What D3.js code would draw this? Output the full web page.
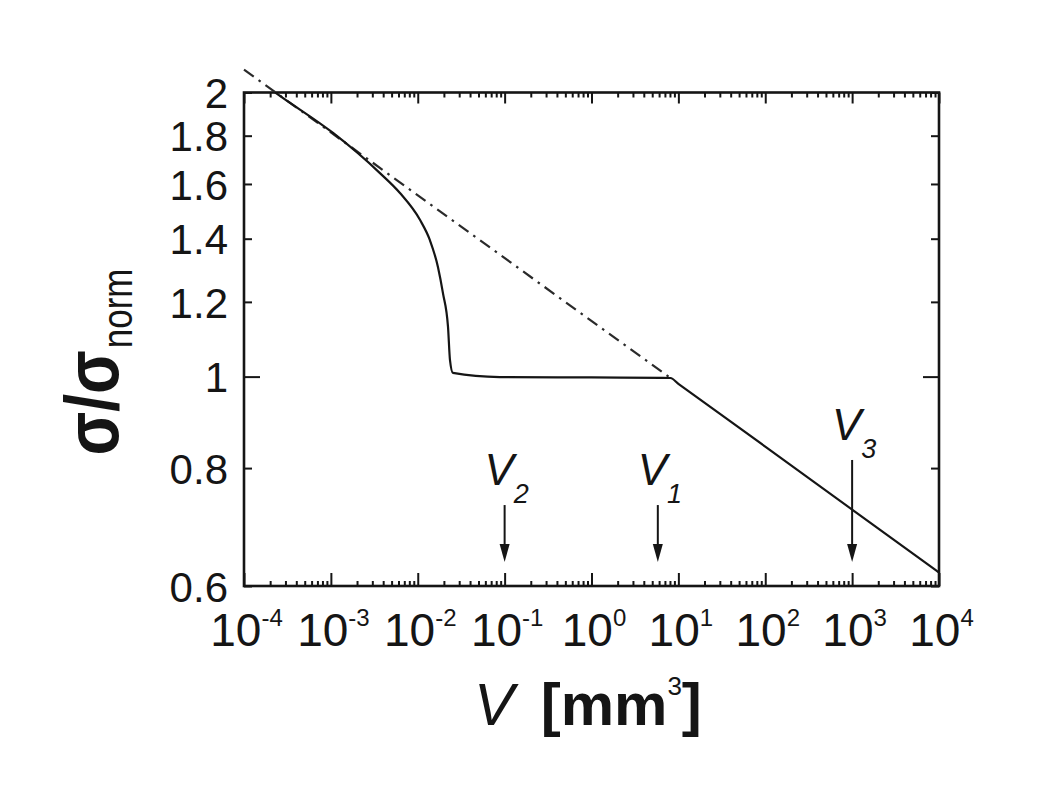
<!DOCTYPE html>
<html><head><meta charset="utf-8">
<script src="https://cdn.jsdelivr.net/npm/d3@7"></script>
<style>body{margin:0;background:#fff} svg{display:block}</style>
</head><body>
<svg id="c" width="1038" height="800"></svg>
<script>
// ---- data ----
const xTickValues = [1e-4, 1e-3, 1e-2, 1e-1, 1, 1e1, 1e2, 1e3, 1e4];
const xTickExponents = ["-4", "-3", "-2", "-1", "0", "1", "2", "3", "4"];
const yTickValues = [0.6, 0.8, 1, 1.2, 1.4, 1.6, 1.8, 2];
const yTickLabels = ["0.6", "0.8", "1", "1.2", "1.4", "1.6", "1.8", "2"];
// solid curve (V in mm^3, sigma/sigma_norm)
const curveV = [1e-4, 2.82e-4, 1.06e-3, 3.67e-3, 6.24e-3, 0.0106, 0.0138, 0.0171, 0.0195, 0.0223, 0.0235, 0.0254, 0.088, 1.0, 6.5, 8.1, 10, 100, 1000, 1e4];
const curveSigma = [2.11, 1.973, 1.812, 1.643, 1.565, 1.466, 1.395, 1.306, 1.226, 1.129, 1.041, 1.009, 0.999, 0.998, 0.997, 0.9966, 0.9827, 0.843, 0.723, 0.620];
// dash-dot reference power law
const refV = [1e-4, 7.7];
const refSigma = [2.115, 1.0];
// marker arrows
const markerNames = ["2", "1", "3"];
const markerV = [0.1, 5.8, 1000];
const markerTop = [0.731, 0.731, 0.816];
const markerTip = [0.636, 0.636, 0.636];

// ---- layout ----
const L = 244, R = 939, T = 92.5, B = 586;
const FONT = "'Liberation Sans', Arial, Helvetica, sans-serif";
const ink = "#151515";

const svg = d3.select("#c");
const x = d3.scaleLog().domain([1e-4, 1e4]).range([L, R]);
const y = d3.scaleLog().domain([0.6, 2]).range([B, T]);

svg.append("defs").append("clipPath").attr("id", "plotclip")
  .append("rect").attr("x", L).attr("y", T).attr("width", R - L).attr("height", B - T);

// minor tick positions
const minorX = [];
for (let k = -4; k < 4; k++) for (let m = 2; m <= 9; m++) minorX.push(m * Math.pow(10, k));

function styleAxis(g) {
  g.select(".domain").remove();
  g.selectAll(".tick line").attr("stroke", ink).attr("stroke-width", 2);
}

// bottom minor / major
svg.append("g").attr("transform", `translate(0,${B})`)
  .call(d3.axisBottom(x).tickValues(minorX).tickSize(-5).tickFormat(""))
  .call(styleAxis);
const xb = svg.append("g").attr("transform", `translate(0,${B})`)
  .call(d3.axisBottom(x).tickValues(xTickValues).tickSize(-13).tickFormat(() => ""))
  .call(styleAxis);
xb.selectAll(".tick text").each(function(d, i) {
  const t = d3.select(this);
  const e = xTickExponents[i];
  t.attr("y", 60).attr("dy", null).attr("fill", ink).attr("x", 2)
   .style("font-family", FONT).style("font-size", "46px").attr("text-anchor", "middle");
  t.append("tspan").text("10");
  t.append("tspan").text(e).attr("dy", -20).style("font-size", "24px");
});

// top minor / major
svg.append("g").attr("transform", `translate(0,${T})`)
  .call(d3.axisTop(x).tickValues(minorX).tickSize(-5).tickFormat(""))
  .call(styleAxis);
svg.append("g").attr("transform", `translate(0,${T})`)
  .call(d3.axisTop(x).tickValues(xTickValues).tickSize(-11).tickFormat(""))
  .call(styleAxis);

// left
const yl = svg.append("g").attr("transform", `translate(${L},0)`)
  .call(d3.axisLeft(y).tickValues(yTickValues).tickSize(-8).tickPadding(14)
    .tickFormat((d, i) => yTickLabels[i]))
  .call(styleAxis);
yl.selectAll(".tick line").filter(d => d === 1).attr("x2", 16);
yl.selectAll(".tick text").attr("fill", ink).style("font-family", FONT).style("font-size", "42px")
  .attr("dy", "0.36em").attr("x", -16);

// right
const yr = svg.append("g").attr("transform", `translate(${R},0)`)
  .call(d3.axisRight(y).tickValues(yTickValues).tickSize(-8).tickFormat(""))
  .call(styleAxis);
yr.selectAll(".tick line").filter(d => d === 1).attr("x2", -16);

// frame
svg.append("rect").attr("x", L).attr("y", T).attr("width", R - L).attr("height", B - T)
  .attr("fill", "none").attr("stroke", ink).attr("stroke-width", 2.6);

// reference dash-dot line
svg.append("path").datum(refV.map((v, i) => [v, refSigma[i]]))
  .attr("d", d3.line().x(d => x(d[0])).y(d => y(d[1])))
  .attr("fill", "none").attr("stroke", "#2a2a2a").attr("stroke-width", 2.2)
  .attr("stroke-dasharray", "12,6,2.5,6");

// solid curve
svg.append("path").datum(curveV.map((v, i) => [v, curveSigma[i]]))
  .attr("clip-path", "url(#plotclip)")
  .attr("d", d3.line().x(d => x(d[0])).y(d => y(d[1])).curve(d3.curveMonotoneX))
  .attr("fill", "none").attr("stroke", ink).attr("stroke-width", 2.2);

// marker arrows
markerV.forEach((v, i) => {
  const ax = x(v), y0 = y(markerTop[i]), y1 = y(markerTip[i]);
  svg.append("line").attr("x1", ax).attr("x2", ax).attr("y1", y0).attr("y2", y1 - 14)
    .attr("stroke", ink).attr("stroke-width", 2);
  svg.append("path").attr("d", `M${ax - 5},${y1 - 18}L${ax + 5},${y1 - 18}L${ax},${y1}Z`).attr("fill", ink);
  const t = svg.append("text").attr("x", ax + 2).attr("y", y0 - 20).attr("text-anchor", "middle")
    .attr("fill", ink).style("font-family", FONT);
  t.append("tspan").text("V").style("font-style", "italic").style("font-size", "44px");
  t.append("tspan").text(markerNames[i]).style("font-style", "italic").style("font-size", "27px").attr("dy", 18);
});

// y title
const yt = svg.append("text").attr("transform", "translate(118,362) rotate(-90) scale(1,1.2)")
  .attr("text-anchor", "middle").attr("fill", ink).style("font-family", FONT).style("font-weight", "bold");
yt.append("tspan").text("\u03c3/\u03c3").style("font-size", "64px");
yt.append("tspan").text("norm").style("font-size", "35px").style("font-weight", "normal").attr("dy", 12).attr("dx", 2);

// x title
const xt = svg.append("text").attr("x", 474).attr("y", 725).attr("fill", ink)
  .style("font-family", FONT).style("font-weight", "bold").style("font-size", "60px");
xt.append("tspan").text("V").style("font-style", "italic").style("font-weight", "normal");
xt.append("tspan").text(" [mm").attr("dx", 10);
xt.append("tspan").text("3").style("font-size", "26px").style("font-weight", "normal").attr("dy", -30);
xt.append("tspan").text("]").attr("dy", 30);
</script>
</body></html>
